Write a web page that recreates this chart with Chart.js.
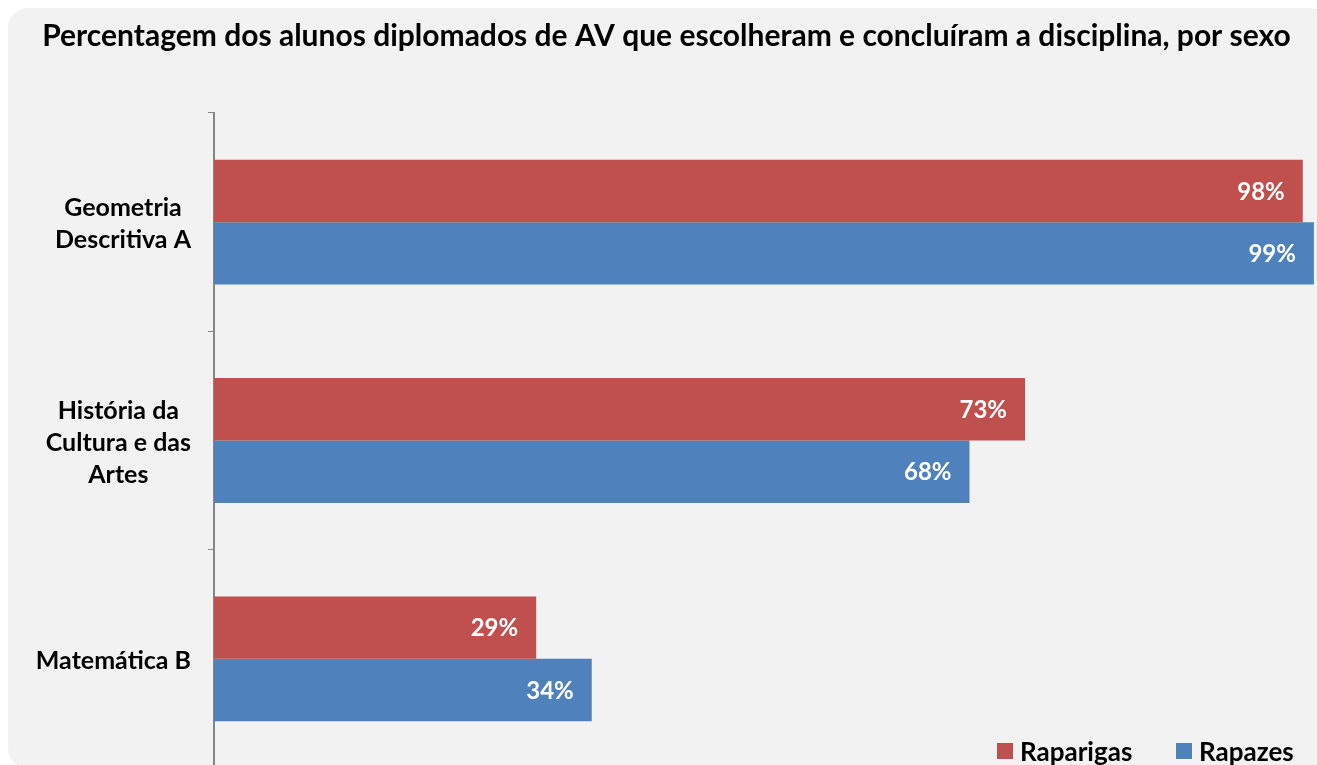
<!DOCTYPE html>
<html lang="pt">
<head>
    <meta charset="UTF-8">
    <title>Percentagem dos alunos diplomados de AV</title>
    <script src="https://cdn.jsdelivr.net/npm/chart.js"></script>
    <style>
        html, body {
            margin: 0;
            padding: 0;
            background: #ffffff;
            overflow: hidden;
            font-family: Lato, "Open Sans", sans-serif;
        }
        .frame {
            position: absolute;
            left: 8px;
            top: 8px;
            width: 1322px;
            height: 760px;
            background: #f2f2f2;
            border-radius: 20px;
            overflow: hidden;
        }
        .frame canvas {
            position: absolute;
            left: 0;
            top: 0;
        }
        .legend-item {
            position: absolute;
            display: flex;
            align-items: center;
            font-weight: bold;
            font-size: 26px;
            color: #000;
        }
        .legend-item .box {
            width: 16px;
            height: 16px;
            margin-right: 7px;
        }
    </style>
</head>
<body>
    <div class="frame">
        <canvas id="chart" width="1322" height="760"></canvas>
        <div class="legend-item" style="left: 989px; top: 727px;"><span class="box" style="background:#c0504d"></span>Raparigas</div>
        <div class="legend-item" style="left: 1168px; top: 727px;"><span class="box" style="background:#4f81bd"></span>Rapazes</div>
    </div>

    <script>
        // Dados do gráfico
        const titulo = 'Percentagem dos alunos diplomados de AV que escolheram e concluíram a disciplina, por sexo';
        const categorias = [['Geometria', 'Descritiva A'], ['História da', 'Cultura e das', 'Artes'], ['Matemática B']];
        const raparigas = [98, 73, 29];
        const rapazes = [99, 68, 34];

        // rótulos de valor brancos dentro da barra
        const rotulosPlugin = {
            id: 'rotulos',
            afterDatasetsDraw(chart) {
                const ctx = chart.ctx;
                ctx.save();
                ctx.fillStyle = '#ffffff';
                ctx.font = 'bold 24px Lato';
                ctx.textAlign = 'right';
                ctx.textBaseline = 'middle';
                chart.data.datasets.forEach((ds, i) => {
                    chart.getDatasetMeta(i).data.forEach((bar, j) => {
                        ctx.fillText(ds.data[j] + '%', bar.x - 18, bar.y + 1);
                    });
                });
                ctx.restore();
            }
        };

        // categorias como no Excel: linhas centradas, bloco alinhado à direita
        const categoriasPlugin = {
            id: 'categorias',
            afterDraw(chart) {
                const ctx = chart.ctx;
                const eixo = chart.scales.y;
                const alturaLinha = 32;
                ctx.save();
                ctx.fillStyle = '#000';
                ctx.font = 'bold 25px Lato';
                ctx.textAlign = 'center';
                ctx.textBaseline = 'middle';
                eixo.ticks.forEach((t, i) => {
                    const linhas = chart.data.labels[i];
                    const largura = Math.max(...linhas.map(l => ctx.measureText(l).width));
                    const cx = eixo.right - 23 - largura / 2;
                    const y0 = eixo.getPixelForTick(i) + 2 - (linhas.length - 1) * alturaLinha / 2;
                    linhas.forEach((l, k) => ctx.fillText(l, cx, y0 + k * alturaLinha));
                });
                ctx.restore();
            }
        };

        const ctx = document.getElementById('chart').getContext('2d');
        new Chart(ctx, {
            type: 'bar',
            data: {
                labels: categorias,
                datasets: [{
                    label: 'Raparigas',
                    data: raparigas,
                    backgroundColor: '#c0504d'
                }, {
                    label: 'Rapazes',
                    data: rapazes,
                    backgroundColor: '#4f81bd'
                }]
            },
            options: {
                indexAxis: 'y',
                responsive: false,
                animation: false,
                datasets: {
                    bar: {
                        barPercentage: 1,
                        categoryPercentage: 0.572
                    }
                },
                layout: {
                    padding: { left: 0, right: 5, bottom: 0 }
                },
                plugins: {
                    legend: { display: false },
                    tooltip: { enabled: false },
                    title: {
                        display: true,
                        text: titulo,
                        color: '#000',
                        font: { family: 'Lato', size: 30, weight: 'bold', lineHeight: 1.2 },
                        padding: { top: 10, bottom: 59 }
                    }
                },
                scales: {
                    x: {
                        display: false,
                        min: 0,
                        max: 100
                    },
                    y: {
                        afterFit(scale) {
                            scale.width = 206;
                            scale.paddingTop = 0;
                            scale.paddingBottom = 0;
                        },
                        grid: {
                            offset: true,
                            drawOnChartArea: false,
                            drawTicks: true,
                            tickLength: 6,
                            color: '#868686'
                        },
                        border: { display: true, color: '#868686', width: 2 },
                        ticks: {
                            display: false
                        }
                    }
                }
            },
            plugins: [rotulosPlugin, categoriasPlugin]
        });
    </script>
</body>
</html>
